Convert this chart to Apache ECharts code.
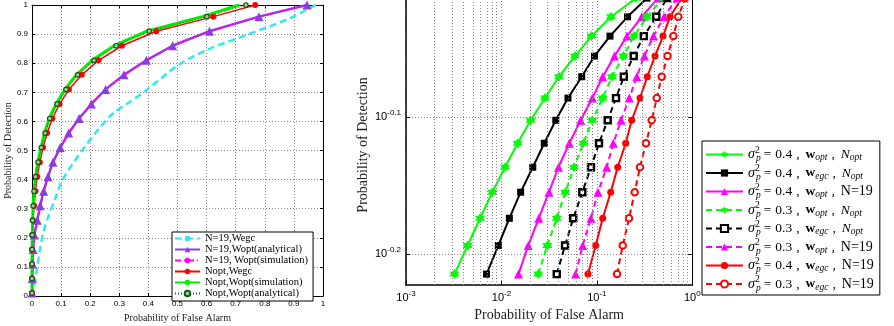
<!DOCTYPE html>
<html><head><meta charset="utf-8">
<script src="https://cdn.jsdelivr.net/npm/echarts@6/dist/echarts.min.js"></script>
<style>html,body{margin:0;padding:0;background:#fff}#c{width:894px;height:326px}</style>
</head><body><div id="c"></div>
<script>
// ===== Left panel: ROC, linear axes =====
const leftTickLabels = ['0','0.1','0.2','0.3','0.4','0.5','0.6','0.7','0.8','0.9','1'];
const leftPd = [0.01,0.06,0.11,0.16,0.21,0.26,0.31,0.36,0.41,0.46,0.51,0.56,0.61,0.66,0.71,0.76,0.81,0.86,0.91,0.96,1.0];
const n19WoptAnaPf = [0.0005,0.001,0.002,0.004,0.008,0.018,0.028,0.040,0.055,0.072,0.097,0.126,0.162,0.204,0.253,0.316,0.393,0.483,0.610,0.780,0.945];
const n19WoptSimPf = [0.0005,0.001,0.002,0.004,0.008,0.018,0.028,0.040,0.055,0.072,0.097,0.126,0.162,0.204,0.253,0.316,0.393,0.483,0.610,0.780,0.945];
const noptWegcPf   = [0,0,0,0.0,0.001,0.0025,0.007,0.012,0.018,0.027,0.038,0.052,0.070,0.095,0.127,0.171,0.229,0.309,0.427,0.623,0.767];
const noptWoptSimPf= [0,0,0,0.0005,0.001,0.002,0.004,0.007,0.012,0.020,0.031,0.043,0.059,0.083,0.113,0.152,0.207,0.282,0.395,0.585,0.712];
const noptWoptAnaPf= [0,0,0,0.0005,0.001,0.002,0.004,0.007,0.012,0.021,0.032,0.045,0.061,0.086,0.117,0.157,0.213,0.289,0.403,0.601,0.735];
const n19WegcPf = [0,0.004,0.010,0.018,0.027,0.041,0.056,0.082,0.105,0.176,0.230,0.279,0.332,0.394,0.503,0.600,0.745,0.876,0.975];
const n19WegcPd = [0,0.020,0.044,0.100,0.158,0.227,0.273,0.341,0.400,0.505,0.575,0.628,0.664,0.708,0.794,0.845,0.900,0.950,1.000];
const leftNames = ['N=19,Wegc','N=19,Wopt(analytical)','N=19, Wopt(simulation)','Nopt,Wegc','Nopt,Wopt(simulation)','Nopt,Wopt(analytical)'];

// ===== Right panel: log-log =====
const rightXTicks = [-3,-2,-1,0];          // exponents of 10
const rightYTicks = [-0.2,-0.1];           // exponents of 10
const rightPd = [0.61,0.64,0.67,0.70,0.73,0.76,0.79,0.82,0.85,0.88,0.91,0.94,0.97];
const pfS04WoptNopt = [0.00322,0.00443,0.00596,0.00802,0.0109,0.0148,0.0202,0.0286,0.0401,0.0590,0.0879,0.1407,0.257];
const pfS04WegcNopt = [0.00698,0.00927,0.0121,0.0159,0.0213,0.0281,0.0371,0.0498,0.0694,0.0945,0.1373,0.2095,0.335];
const pfS04WoptN19  = [0.0151,0.0191,0.0246,0.0315,0.0396,0.0514,0.0677,0.0896,0.1151,0.1531,0.2069,0.2951,0.437];
const pfS03WoptNopt = [0.0243,0.0302,0.0380,0.0466,0.0576,0.0721,0.0896,0.1151,0.1441,0.1893,0.2449,0.335,0.493];
const pfS03WegcNopt = [0.0380,0.0464,0.0566,0.0704,0.0868,0.1053,0.1299,0.1587,0.1916,0.2432,0.3103,0.4197,0.543];
const pfS03WoptN19  = [0.0600,0.0710,0.0868,0.1028,0.1268,0.1487,0.1791,0.2187,0.262,0.314,0.3922,0.5054,0.691];
const pfS04WegcN19  = [0.0807,0.0973,0.1151,0.1396,0.1654,0.2005,0.2318,0.2832,0.3378,0.4067,0.4933,0.5841,0.774];
const pfS03WegcN19  = [0.1626,0.1866,0.2172,0.2491,0.2832,0.3273,0.3756,0.4238,0.4782,0.5498,0.6324,0.7136,0.839];
const rightSigma = ['0.4','0.4','0.4','0.3','0.3','0.3','0.4','0.3'];
const rightW     = ['opt','egc','opt','opt','egc','opt','egc','egc'];
const rightN     = ['opt','opt','19','opt','opt','19','19','19'];
const rightNames = ['s04 wopt Nopt','s04 wegc Nopt','s04 wopt N19','s03 wopt Nopt','s03 wegc Nopt','s03 wopt N19','s04 wegc N19','s03 wegc N19'];

// ===== helpers =====
const serif = '"Liberation Serif","Times New Roman",serif';
const sans = '"Liberation Sans",Arial,Helvetica,sans-serif';
const gridDot = {color:'#8a8a8a', width:1, type:[1,2]};
const pairs = (xs, ys) => xs.map((x,i)=>[x, ys[i]]);
const logPairs = (xs, ys) => xs.map((x,i)=>[Math.log10(x), Math.log10(ys[i])]);
const star = 'path://M0,-10L2.9,-5L8.66,-5L5.8,0L8.66,5L2.9,5L0,10L-2.9,5L-8.66,5L-5.8,0L-8.66,-5L-2.9,-5Z';
const minorX = [];
for (let e = -3; e < 0; e++) for (let k = 2; k <= 9; k++) minorX.push(Math.log10(k) + e);
const rightYMin = -0.2 - 31/1370;

function rightLegendLabel(i){
  const n = rightN[i] === 'opt' ? '{it|N}{sub|opt}' : '{n19|N=19}';
  return '{sig|σ}{sup|2}{subp|p}{eq|=}{t|' + rightSigma[i] + '}{cm|,}{bw|w}{sub|' + rightW[i] + '}{cm|,}' + n;
}

const L = (name, data, color, width, type, symbol, size, extra) => Object.assign({
  name, type:'line', xAxisIndex:0, yAxisIndex:0, data, color,
  lineStyle:{color, width, type}, symbol: symbol || 'none', symbolSize: size,
  showSymbol: !!symbol, itemStyle:{color}, z:2, clip:true
}, extra || {});

const R = (i, pf, color, dashed, symbol, size, hollow, bw) => ({
  name: rightNames[i], type:'line', xAxisIndex:2, yAxisIndex:2,
  data: logPairs(pf, rightPd), color,
  lineStyle:{color, width:2, type: dashed ? [6,4] : 'solid'},
  symbol, symbolSize: size,
  itemStyle: hollow ? {color:'#fff', borderColor:color, borderWidth:bw || 2} : {color},
  z:3, clip:true
});

const chart = echarts.init(document.getElementById('c'), null, {renderer:'canvas'});
const option = {
  animation:false,
  backgroundColor:'#fff',
  textStyle:{fontFamily:sans},
  grid:[
    {left:32, top:5, width:291, height:291, containLabel:false, outerBoundsMode:'none'},
    {left:406, top:-20, width:286.3, height:305, containLabel:false, outerBoundsMode:'none'}
  ],
  xAxis:[
    {gridIndex:0, type:'value', min:0, max:1, interval:0.1, position:'bottom',
     name:'Probability of False Alarm', nameLocation:'middle', nameGap:12,
     nameTextStyle:{fontFamily:serif, fontSize:10, color:'#222'},
     axisLine:{show:true, onZero:false, lineStyle:{color:'#000', width:1}},
     axisTick:{show:true, inside:true, length:3, lineStyle:{color:'#000'}},
     axisLabel:{show:true, fontFamily:sans, fontSize:8, color:'#000', margin:4, showMinLabel:true, showMaxLabel:true,
       formatter:v=>leftTickLabels[Math.round(v*10)]},
     splitLine:{show:true, lineStyle:gridDot}},
    {gridIndex:0, type:'value', min:0, max:1, interval:0.1, position:'top',
     axisLine:{show:true, onZero:false, lineStyle:{color:'#000', width:1}},
     axisTick:{show:true, inside:true, length:3, lineStyle:{color:'#000'}},
     axisLabel:{show:false}, splitLine:{show:false}},
    {gridIndex:1, type:'value', min:-3, max:0, interval:1, position:'bottom',
     name:'Probability of False Alarm', nameLocation:'middle', nameGap:20,
     nameTextStyle:{fontFamily:serif, fontSize:14, color:'#222'},
     axisLine:{show:true, onZero:false, lineStyle:{color:'#000', width:1.5}},
     axisTick:{show:true, inside:true, length:4, lineStyle:{color:'#000'}},
     axisLabel:{show:true, margin:5, showMinLabel:true, showMaxLabel:true,
       formatter:v=>'{b|10}{s|' + rightXTicks[Math.round(v)+3] + '}',
       rich:{b:{fontFamily:sans, fontSize:11, color:'#000'}, s:{fontFamily:sans, fontSize:8, color:'#000', padding:[0,0,8,0]}}},
     splitLine:{show:true, lineStyle:gridDot}}
  ],
  yAxis:[
    {gridIndex:0, type:'value', min:0, max:1, interval:0.1, position:'left',
     name:'Probability of Detection', nameLocation:'middle', nameGap:16, nameRotate:90,
     nameTextStyle:{fontFamily:serif, fontSize:10, color:'#222'},
     axisLine:{show:true, onZero:false, lineStyle:{color:'#000', width:1}},
     axisTick:{show:true, inside:true, length:3, lineStyle:{color:'#000'}},
     axisLabel:{show:true, fontFamily:sans, fontSize:8, color:'#000', margin:4, showMinLabel:true, showMaxLabel:true,
       formatter:v=>leftTickLabels[Math.round(v*10)]},
     splitLine:{show:true, lineStyle:gridDot}},
    {gridIndex:0, type:'value', min:0, max:1, interval:0.1, position:'right',
     axisLine:{show:true, onZero:false, lineStyle:{color:'#000', width:1}},
     axisTick:{show:true, inside:true, length:3, lineStyle:{color:'#000'}},
     axisLabel:{show:false}, splitLine:{show:false}},
    {gridIndex:1, type:'value', min:rightYMin, max:0, position:'left',
     name:'Probability of Detection', nameLocation:'middle', nameGap:36, nameRotate:90,
     nameTextStyle:{fontFamily:serif, fontSize:14, color:'#222', padding:[0,25,0,0]},
     axisLine:{show:true, onZero:false, lineStyle:{color:'#000', width:1.5}},
     axisTick:{show:true, inside:true, length:4, lineStyle:{color:'#000'}, customValues:rightYTicks},
     axisLabel:{show:true, margin:5, customValues:rightYTicks,
       formatter:v=>'{b|10}{s|' + v.toFixed(1) + '}',
       rich:{b:{fontFamily:sans, fontSize:11, color:'#000'}, s:{fontFamily:sans, fontSize:8, color:'#000', padding:[0,0,8,0]}}},
     splitLine:{show:true, lineStyle:gridDot}},
    {gridIndex:1, type:'value', min:rightYMin, max:0, position:'right',
     axisLine:{show:true, onZero:false, lineStyle:{color:'#000', width:1}},
     axisTick:{show:true, inside:true, length:4, lineStyle:{color:'#000'}, customValues:rightYTicks},
     axisLabel:{show:false}, splitLine:{show:false}}
  ],
  legend:[
    {data:leftNames, left:172, top:232, orient:'vertical', padding:[1,5,2,2], itemGap:0,
     itemWidth:25, itemHeight:7, borderColor:'#000', borderWidth:1, backgroundColor:'#fff', selectedMode:false,
     textStyle:{fontFamily:serif, fontSize:10.5, lineHeight:10.1, color:'#000'}},
    {data:rightNames, left:702, top:141, orient:'vertical', padding:[4,6,2,3], itemGap:0,
     itemWidth:37, itemHeight:9, borderColor:'#000', borderWidth:1, backgroundColor:'#fff', selectedMode:false,
     formatter:name=>rightLegendLabel(rightNames.indexOf(name)),
     textStyle:{fontFamily:serif, fontSize:13, lineHeight:17.3, color:'#000',
       rich:{
         t:{fontFamily:serif, fontSize:13.5, color:'#000'},
         eq:{fontFamily:serif, fontSize:13.5, color:'#000', padding:[0,4,0,3]},
         cm:{fontFamily:serif, fontSize:13.5, color:'#000', padding:[0,6,0,4]},
         sig:{fontFamily:serif, fontSize:14, fontStyle:'italic', color:'#000'},
         sup:{fontFamily:serif, fontSize:9.5, color:'#000', width:0, padding:[0,0,9,0]},
         subp:{fontFamily:serif, fontSize:9.5, fontStyle:'italic', color:'#000', padding:[8,0,0,1]},
         bw:{fontFamily:serif, fontSize:13.5, fontWeight:'bold', color:'#000'},
         it:{fontFamily:serif, fontSize:13.5, fontStyle:'italic', color:'#000'},
         n19:{fontFamily:serif, fontSize:14, color:'#000'},
         sub:{fontFamily:serif, fontSize:9.5, fontStyle:'italic', color:'#000', padding:[6,0,0,0]}
       }}}
  ],
  series:[
    L(leftNames[0], pairs(n19WegcPf, n19WegcPd), '#33e8f5', 2.5, [7,4], null, 0, {smooth:0.3}),
    L(leftNames[1], pairs(n19WoptAnaPf, leftPd), '#8a3ee0', 2.5, 'solid', 'triangle', 9),
    L(leftNames[2], pairs(n19WoptSimPf, leftPd), '#ff00ff', 1.6, [6,3,1,3], null, 0),
    L(leftNames[3], pairs(noptWegcPf, leftPd), '#ff0000', 1.5, 'solid', 'circle', 6),
    L(leftNames[4], pairs(noptWoptSimPf, leftPd), '#00ee00', 3, 'solid', null, 0),
    L(leftNames[5], pairs(noptWoptAnaPf, leftPd), '#007a00', 1, [1,2], 'circle', 4.5,
      {itemStyle:{color:'#bbb', borderColor:'#006400', borderWidth:1.2}}),
    // minor log grid lines of the right panel, through the axis scale
    {name:'_minor', type:'line', xAxisIndex:2, yAxisIndex:2, data:[], z:1, silent:true,
     markLine:{silent:true, symbol:['none','none'], label:{show:false}, animation:false,
       lineStyle:gridDot, emphasis:{disabled:true}, data:minorX.map(v=>({xAxis:v}))}},
    R(0, pfS04WoptNopt, '#00ff00', false, star, 10, false),
    R(1, pfS04WegcNopt, '#000000', false, 'rect', 7, false),
    R(2, pfS04WoptN19,  '#ff00ff', false, 'triangle', 9, false),
    R(3, pfS03WoptNopt, '#00ff00', true, star, 10, false),
    R(4, pfS03WegcNopt, '#000000', true, 'rect', 6, true, 2.4),
    R(5, pfS03WoptN19,  '#ff00ff', true, 'triangle', 9, false),
    R(6, pfS04WegcN19,  '#ff0000', false, 'circle', 7, false),
    R(7, pfS03WegcN19,  '#ff0000', true, 'circle', 6.5, true, 2)
  ]
};
chart.setOption(option);
</script>
</body></html>
